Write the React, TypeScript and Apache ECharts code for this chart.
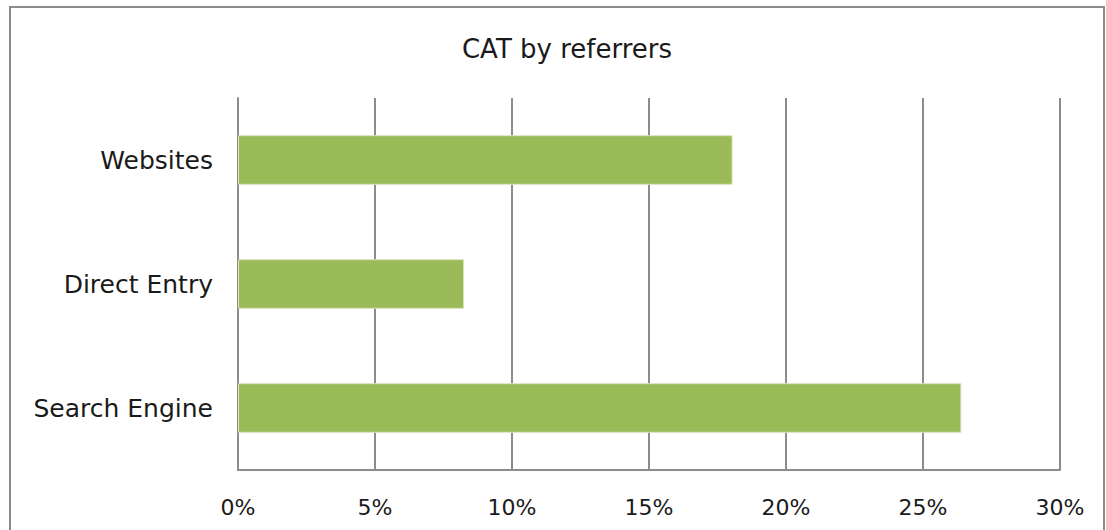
import React, { useEffect, useRef } from "react";
import * as echarts from "echarts";

const categories = ["Search Engine", "Direct Entry", "Websites"];
const shares = [26.4, 8.25, 18.05];
const tickMax = 30;
const tickStep = 5;

const FONT = "'DejaVu Sans', sans-serif";

export default function App() {
  const ref = useRef<HTMLDivElement>(null);

  useEffect(() => {
    if (!ref.current) return;
    const chart = echarts.init(ref.current, undefined, { renderer: "svg" });
    chart.setOption({
      animation: false,
      backgroundColor: "#ffffff",
      title: {
        text: "CAT by referrers",
        left: 562,
        top: 31,
        textAlign: "center",
        textStyle: { fontFamily: FONT, fontSize: 26, fontWeight: "normal", color: "#1a1a1a" },
      },
      graphic: [
        {
          type: "rect",
          shape: { x: 10, y: 7, width: 1094, height: 540 },
          style: { fill: "none", stroke: "#8c8c8c", lineWidth: 2 },
          silent: true,
        },
      ],
      grid: { left: 238, right: 46, top: 98, bottom: 60 },
      xAxis: {
        type: "value",
        min: 0,
        max: tickMax,
        interval: tickStep,
        axisLine: { show: true, lineStyle: { color: "#8c8c8c", width: 2 } },
        axisTick: { show: false },
        splitLine: { show: true, lineStyle: { color: "#8c8c8c", width: 2 } },
        axisLabel: {
          formatter: (v: number) => `${v}%`,
          margin: 26,
          fontFamily: FONT,
          fontSize: 22,
          color: "#1a1a1a",
        },
      },
      yAxis: {
        type: "category",
        data: categories,
        axisLine: { show: true, lineStyle: { color: "#8c8c8c", width: 2 } },
        axisTick: { show: false },
        axisLabel: { margin: 25, fontFamily: FONT, fontSize: 25, color: "#1a1a1a" },
      },
      series: [
        {
          type: "bar",
          data: shares,
          barWidth: "40%",
          itemStyle: { color: "#9bbb59", borderColor: "#d7e4bd", borderWidth: 1 },
        },
      ],
    });
    return () => chart.dispose();
  }, []);

  return (
    <div
      ref={ref}
      style={{ position: "fixed", left: 0, top: 0, width: 1106, height: 530 }}
    />
  );
}
